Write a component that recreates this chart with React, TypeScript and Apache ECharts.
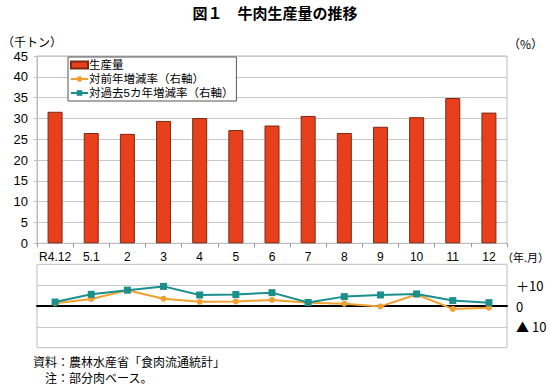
import React, { useEffect, useRef } from "react";
import * as echarts from "echarts";

const categories = ["R4.12", "5.1", "2", "3", "4", "5", "6", "7", "8", "9", "10", "11", "12"];
const production = [31.6, 26.5, 26.3, 29.4, 30.1, 27.2, 28.3, 30.6, 26.5, 28.0, 30.3, 34.9, 31.4];
const yoyRate = [1.3, 3.4, 7.6, 3.5, 2.0, 2.2, 2.9, 1.6, 1.1, -0.2, 5.5, -1.4, -0.8];
const fiveYearRate = [1.9, 5.6, 7.6, 9.4, 5.3, 5.5, 6.4, 1.7, 4.5, 5.3, 5.8, 2.6, 1.6];
const upperTicks = { min: 0, max: 45, interval: 5 };
const lowerTicks = { min: -20, max: 20, interval: 10 };

const FONT = "'Liberation Sans', 'Noto Sans CJK JP', sans-serif";
const JP = "'Noto Sans CJK JP', 'Liberation Sans', sans-serif";

export default function App() {
  const ref = useRef<HTMLDivElement>(null);
  useEffect(() => {
    if (!ref.current) return;
    const chart = echarts.init(ref.current, null, { renderer: "svg" });
    const gridLine = { color: "#c8c8c8", width: 1 };
    chart.setOption({
      animation: false,
      backgroundColor: "#ffffff",
      textStyle: { fontFamily: FONT, color: "#000" },
      grid: [
        { left: 37, right: 43, top: 56, height: 187.3, show: true, borderColor: "#bdbdbd", borderWidth: 1 },
        { left: 37, right: 43, top: 264.3, height: 83.4, show: true, borderColor: "#bdbdbd", borderWidth: 1 },
      ],
      legend: {
        orient: "vertical",
        left: 68,
        top: 57,
        padding: [2, 3, 2, 2],
        itemGap: 2,
        itemWidth: 17,
        itemHeight: 7,
        backgroundColor: "#ffffff",
        borderColor: "#555",
        borderWidth: 1,
        borderRadius: 0,
        textStyle: { fontFamily: FONT, fontSize: 11.5, lineHeight: 12, color: "#000", padding: [0, 0, 0, -4] },
        data: [
          { name: "生産量", icon: "rect" },
          { name: "対前年増減率（右軸）" },
          { name: "対過去5カ年増減率（右軸）" },
        ],
      },
      xAxis: [
        {
          type: "category",
          gridIndex: 0,
          data: categories,
          boundaryGap: true,
          axisLine: { show: true, lineStyle: { color: "#bdbdbd" } },
          axisTick: { show: true, length: 4, lineStyle: { color: "#999" } },
          axisLabel: { interval: 0, fontSize: 12, margin: 8, color: "#000", fontFamily: FONT },
          splitLine: { show: false },
        },
        {
          type: "category",
          gridIndex: 1,
          data: categories,
          boundaryGap: true,
          axisLine: { show: true, onZero: true, lineStyle: { color: "#000", width: 2 } },
          axisTick: { show: false },
          axisLabel: { show: false },
          splitLine: { show: false },
        },
      ],
      yAxis: [
        {
          type: "value",
          gridIndex: 0,
          min: upperTicks.min,
          max: upperTicks.max,
          interval: upperTicks.interval,
          axisLine: { show: true, lineStyle: { color: "#bdbdbd" } },
          axisTick: { show: true, length: 3, lineStyle: { color: "#bdbdbd" } },
          axisLabel: { fontSize: 13, margin: 9, color: "#000", fontFamily: FONT },
          splitLine: { show: true, lineStyle: gridLine },
        },
        {
          type: "value",
          gridIndex: 1,
          position: "right",
          min: lowerTicks.min,
          max: lowerTicks.max,
          interval: lowerTicks.interval,
          axisLine: { show: false },
          axisTick: { show: false },
          axisLabel: {
            fontSize: 13,
            margin: 9,
            color: "#000",
            fontFamily: JP,
            formatter: (v: number) => (v === 10 ? "＋10" : v === 0 ? "0" : v === -10 ? "▲ 10" : ""),
          },
          splitLine: { show: true, lineStyle: gridLine },
        },
      ],
      series: [
        {
          name: "生産量",
          type: "bar",
          xAxisIndex: 0,
          yAxisIndex: 0,
          data: production,
          barWidth: 15,
          itemStyle: { color: "#e8401c", borderColor: "#7a2a12", borderWidth: 1 },
        },
        {
          name: "対前年増減率（右軸）",
          type: "line",
          xAxisIndex: 1,
          yAxisIndex: 1,
          data: yoyRate,
          symbol: "circle",
          symbolSize: 6,
          lineStyle: { color: "#f0a030", width: 2 },
          itemStyle: { color: "#f0a030" },
        },
        {
          name: "対過去5カ年増減率（右軸）",
          type: "line",
          xAxisIndex: 1,
          yAxisIndex: 1,
          data: fiveYearRate,
          symbol: "rect",
          symbolSize: 7,
          lineStyle: { color: "#1a8f8c", width: 2 },
          itemStyle: { color: "#1a8f8c" },
        },
      ],
      graphic: [
        {
          type: "text",
          left: "center",
          top: 5,
          style: { text: "図１　牛肉生産量の推移", font: `bold 15px ${JP}`, fill: "#000" },
        },
        { type: "text", left: 2, top: 35, style: { text: "（千トン）", font: `12px ${JP}`, fill: "#000" } },
        { type: "text", left: 508, top: 37, style: { text: "（%）", font: `12px ${JP}`, fill: "#000" } },
        { type: "text", right: 1, top: 251, style: { text: "（年.月）", font: `11px ${JP}`, fill: "#000" } },
        { type: "text", left: 33, top: 355, style: { text: "資料：農林水産省「食肉流通統計」", font: `12px ${JP}`, fill: "#000" } },
        { type: "text", left: 45, top: 371, style: { text: "注：部分肉ベース。", font: `12px ${JP}`, fill: "#000" } },
      ],
    });
    return () => chart.dispose();
  }, []);
  return <div ref={ref} style={{ position: "absolute", left: 0, top: 0, width: 550, height: 387 }} />;
}
